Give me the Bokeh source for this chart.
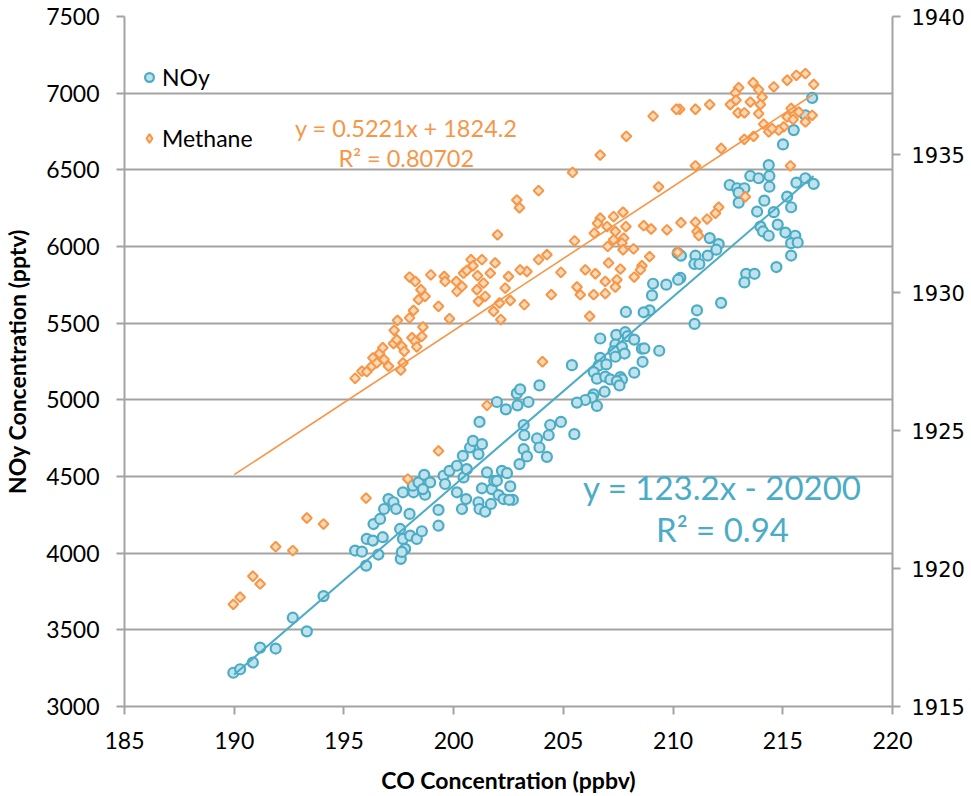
import math
from bokeh.plotting import figure
from bokeh.models import Range1d, LinearAxis, FixedTicker, Legend, LegendItem, Label
from bokeh.embed import file_html
from bokeh.resources import INLINE

# ---------------- data ----------------
co_noy = [
    189.96, 190.27, 190.85, 191.18, 191.89, 192.67, 193.31, 194.07,
    195.51, 195.82, 196.01, 196.04, 196.32, 196.57, 196.35, 196.65, 196.77, 196.83,
    197.03, 197.26, 197.38, 197.69, 197.56, 197.69, 197.79, 197.59, 197.64, 197.99,
    198.02, 198.32, 198.55, 198.17, 198.14, 198.40, 198.66, 198.70, 198.93, 198.60,
    199.31, 199.31, 199.54, 199.61, 199.81, 200.15, 200.15, 200.42, 200.45, 200.38,
    200.57, 200.60, 200.75, 200.88, 201.13, 201.29, 201.18, 201.29, 201.13, 201.18,
    201.44, 201.52, 201.74, 201.85, 201.97, 201.70, 202.05, 202.20, 202.43, 202.27,
    202.58, 202.70, 202.53, 201.97, 202.38, 202.88, 203.03, 202.91, 203.41, 203.91,
    203.19, 203.22, 203.19, 203.34, 203.00, 203.80, 203.91, 204.25,
    214.36, 213.52, 213.90, 214.39, 214.39, 212.58, 212.92, 213.25, 212.99, 212.99,
    214.16, 213.83, 214.59, 215.20, 215.38, 215.62, 216.03, 216.41, 213.98, 214.10,
    214.36, 214.77, 215.12, 215.57, 215.38, 215.68, 215.38, 214.71, 213.33, 213.71,
    213.25, 211.67, 212.08, 211.97, 211.58, 211.02, 210.97, 211.20, 210.21, 210.36,
    210.33, 210.23, 209.69, 209.09, 209.04, 212.19, 211.09, 210.98, 208.93, 208.66,
    207.85, 206.68, 207.41, 207.82, 207.93, 208.23, 207.37, 207.67, 207.29, 207.79,
    207.37, 208.58, 208.69, 209.37, 208.61, 206.68, 206.61, 206.96, 205.39, 206.38,
    206.53, 206.91, 207.14, 207.60, 207.67, 207.44, 207.56, 208.23, 206.88, 206.38,
    206.30, 206.00, 205.62, 206.53, 204.40, 204.89, 204.33, 205.50,
    216.34, 216.03, 215.50, 215.01,
]
noy = [
    3220, 3243, 3287, 3384, 3378, 3579, 3490, 3720,
    4017, 4010, 3919, 4093, 4082, 3991, 4190, 4223, 4104, 4288,
    4353, 4332, 4288, 4397, 4158, 4093, 4028, 3963, 4008, 4256,
    4114, 4093, 4143, 4397, 4440, 4462, 4511, 4381, 4462, 4418,
    4282, 4179, 4505, 4451, 4537, 4570, 4397, 4635, 4494, 4288,
    4353, 4548, 4689, 4732, 4646, 4711, 4856, 4423, 4332, 4288,
    4270, 4527, 4418, 4472, 4472, 4321, 4379, 4537, 4522, 4353,
    4436, 4348, 4348, 4986, 4938, 5042, 5068, 4964, 4986, 5094,
    4836, 4769, 4678, 4631, 4581, 4748, 4689, 4628,
    6531, 6460, 6445, 6460, 6390, 6401, 6380, 6380, 6351, 6286,
    6299, 6228, 6224, 6325, 6256, 6416, 6445, 6408, 6130, 6098,
    6070, 6143, 6091, 6070, 6022, 6026, 5941, 5866, 5822, 5822,
    5766, 6055, 6016, 5979, 5941, 5940, 5886, 5886, 5957, 5940,
    5795, 5783, 5751, 5757, 5681, 5632, 5584, 5495, 5584, 5571,
    5573, 5400, 5424, 5441, 5415, 5393, 5361, 5346, 5317, 5302,
    5281, 5333, 5335, 5320, 5248, 5274, 5224, 5231, 5226, 5181,
    5138, 5151, 5133, 5148, 5133, 5122, 5094, 5177, 5053, 5036,
    5014, 4999, 4982, 4960, 4836, 4856, 4769, 4776,
    6969, 6856, 6759, 6666,
]

co_ch4 = [
    189.96, 190.27, 190.85, 191.18, 191.89, 192.67, 193.31, 194.07, 196.01, 197.91,
    195.51, 195.82, 196.04, 196.27, 196.32, 196.50, 196.62, 196.77, 196.83, 197.03,
    197.26, 197.41, 197.64, 197.69, 197.59, 197.75, 198.10, 198.25, 198.32, 198.55,
    198.60, 197.29, 197.44, 197.99, 198.17, 198.40, 198.70, 198.51, 197.99, 198.25,
    198.96, 199.31, 199.57, 199.61, 199.81, 200.12, 200.15, 200.38, 200.45, 200.60,
    200.79, 200.88, 201.09, 201.06, 201.13, 199.31, 204.05, 201.52,
    216.03, 215.62, 215.20, 216.41, 214.59, 213.65, 213.90, 212.99, 212.84, 214.06,
    213.52, 212.61, 212.87, 213.98, 212.96, 213.25, 213.90, 211.67, 211.02, 210.30,
    210.15, 209.09, 207.87, 206.68, 205.42, 203.87, 202.88, 203.00, 202.00, 216.34,
    215.38, 215.73, 215.20, 215.47, 216.03, 215.04, 214.81, 214.13, 214.36, 214.51,
    213.67, 213.25, 212.19, 211.02, 215.35, 209.34, 213.29, 212.08, 211.93, 211.55,
    211.02, 211.09, 211.17, 210.36, 209.72, 209.00, 208.66, 207.72, 207.29, 206.68,
    206.56, 206.99, 207.37, 207.85, 206.41, 207.75, 207.29, 207.67, 207.02, 207.72,
    208.20, 208.93, 208.58, 208.51, 208.23, 207.60, 207.06, 206.46, 206.00, 206.91,
    207.44, 207.37, 206.91, 206.38, 205.77, 205.62, 204.89, 204.45, 206.20, 205.51,
    204.25, 203.87, 203.34, 203.03, 203.22, 202.50, 202.35, 202.58, 202.09, 202.15,
    201.82, 201.89, 201.67, 201.29, 201.36, 201.44, 210.21,
]
ch4 = [
    1918.70, 1918.96, 1919.72, 1919.44, 1920.79, 1920.65, 1921.83, 1921.61, 1922.55, 1923.24,
    1926.89, 1927.15, 1927.13, 1927.33, 1927.63, 1927.45, 1927.79, 1928.00, 1927.57, 1927.33,
    1928.15, 1928.29, 1928.05, 1927.45, 1927.19, 1927.87, 1928.36, 1928.23, 1928.03, 1928.41,
    1928.75, 1928.63, 1928.99, 1929.08, 1929.35, 1929.74, 1929.86, 1930.10, 1930.56, 1930.40,
    1930.64, 1929.50, 1930.58, 1930.40, 1929.05, 1930.40, 1930.04, 1930.22, 1930.70, 1930.80,
    1931.19, 1930.97, 1930.61, 1930.10, 1929.68, 1924.26, 1927.49, 1925.91,
    1937.93, 1937.87, 1937.69, 1937.54, 1937.45, 1937.60, 1937.35, 1937.42, 1937.23, 1937.08,
    1936.90, 1936.81, 1936.97, 1936.81, 1936.51, 1936.51, 1936.48, 1936.81, 1936.64, 1936.64,
    1936.64, 1936.39, 1935.66, 1934.98, 1934.35, 1933.69, 1933.35, 1933.07, 1932.09, 1936.42,
    1936.67, 1936.54, 1936.36, 1936.27, 1936.18, 1936.00, 1935.88, 1936.10, 1935.82, 1935.94,
    1935.66, 1935.55, 1935.22, 1934.59, 1934.59, 1933.83, 1933.47, 1933.09, 1932.87, 1932.66,
    1932.55, 1932.21, 1932.06, 1932.53, 1932.27, 1932.30, 1932.42, 1932.91, 1932.75, 1932.69,
    1932.51, 1932.39, 1932.21, 1932.39, 1932.15, 1931.97, 1931.91, 1931.79, 1931.67, 1931.55,
    1931.58, 1931.30, 1930.97, 1930.82, 1930.56, 1930.85, 1931.07, 1930.68, 1930.82, 1930.40,
    1930.46, 1930.20, 1929.96, 1929.92, 1929.92, 1930.20, 1930.73, 1929.92, 1929.14, 1931.87,
    1931.37, 1931.19, 1930.76, 1930.82, 1929.56, 1930.58, 1930.16, 1929.71, 1929.62, 1929.02,
    1929.32, 1931.07, 1930.70, 1931.19, 1930.34, 1929.86, 1931.46,
]

noy_fit = (123.2, -20200.0)     # slope, intercept
ch4_fit = (0.5221, 1824.2)
fit_x = [190.0, 216.4]

x_ticks = [185, 190, 195, 200, 205, 210, 215, 220]
noy_ticks = [3000, 3500, 4000, 4500, 5000, 5500, 6000, 6500, 7000, 7500]
ch4_ticks = [1915, 1920, 1925, 1930, 1935, 1940]

# ---------------- styling ----------------
BLUE = "#4bacc6"
BLUE_FILL = "#bfe2ec"
ORANGE = "#f79646"
ORANGE_FILL = "#fcd9b8"
GRID = "#a3a3a3"
FONT = "Lato"

p = figure(width=971, height=796, output_backend="svg", toolbar_location=None,
           x_range=Range1d(185, 220), y_range=Range1d(3000, 7500),
           min_border_left=124, min_border_right=79, min_border_top=16,
           min_border_bottom=88)
p.extra_y_ranges = {"ch4": Range1d(1915, 1940)}
p.outline_line_color = None
p.background_fill_color = "white"
p.border_fill_color = "white"

p.xgrid.visible = False
p.ygrid.ticker = FixedTicker(ticks=noy_ticks)
p.ygrid.grid_line_color = GRID
p.ygrid.grid_line_width = 2

def style_axis(ax, font, size):
    ax.axis_line_color = GRID
    ax.axis_line_width = 2
    ax.major_tick_line_color = GRID
    ax.major_tick_line_width = 2
    ax.major_tick_out = 8
    ax.major_tick_in = 0
    ax.minor_tick_out = 0
    ax.minor_tick_in = 0
    ax.major_label_text_font = font
    ax.major_label_text_font_size = size
    ax.major_label_text_color = "black"
    ax.axis_label_text_color = "black"

xa = p.xaxis[0]
xa.ticker = FixedTicker(ticks=x_ticks)
style_axis(xa, FONT, "23px")
xa.major_label_standoff = 17
xa.axis_label = "CO Concentration (ppbv)"
xa.axis_label_text_font = FONT
xa.axis_label_text_font_style = "bold"
xa.axis_label_text_font_size = "23px"
xa.axis_label_standoff = 14

ya = p.yaxis[0]
ya.ticker = FixedTicker(ticks=noy_ticks)
style_axis(ya, FONT, "23px")
ya.major_label_standoff = 17
ya.axis_label = "NOy Concentration (pptv)"
ya.axis_label_text_font = FONT
ya.axis_label_text_font_style = "bold"
ya.axis_label_text_font_size = "23px"
ya.axis_label_standoff = 12

ra = LinearAxis(y_range_name="ch4", ticker=FixedTicker(ticks=ch4_ticks))
style_axis(ra, "DejaVu Sans", "21px")
ra.major_label_standoff = 11
p.add_layout(ra, "right")

# ---------------- data marks ----------------
r_noy = p.scatter(co_noy, noy, marker="circle", size=10, fill_color=BLUE_FILL,
                  line_color=BLUE, line_width=2.2)
r_ch4 = p.scatter(co_ch4, ch4, marker="square", angle=math.pi / 4, size=7,
                  fill_color=ORANGE_FILL, line_color=ORANGE, line_width=2,
                  y_range_name="ch4")
# legend swatch for methane: diamond glyph with a single non-plotted (NaN) entry
key_x = [float("nan")]
key_y = [float("nan")]
r_ch4_key = p.scatter(key_x, key_y, marker="diamond", size=7,
                      fill_color=ORANGE_FILL, line_color=ORANGE, line_width=2,
                      y_range_name="ch4")

p.line(fit_x, [noy_fit[0] * x + noy_fit[1] for x in fit_x], line_color=BLUE, line_width=2)
p.line(fit_x, [ch4_fit[0] * x + ch4_fit[1] for x in fit_x], line_color=ORANGE,
       line_width=1.6, y_range_name="ch4")

# ---------------- legend ----------------
legend = Legend(items=[LegendItem(label="NOy", renderers=[r_noy]),
                       LegendItem(label="Methane", renderers=[r_ch4_key])],
                location=(14, 554), orientation="vertical",
                glyph_width=22, glyph_height=22, label_height=24,
                spacing=33, padding=0, margin=0, label_standoff=2,
                label_text_font=FONT, label_text_font_size="23px",
                label_text_color="black",
                border_line_color=None, background_fill_alpha=0)
p.add_layout(legend)

# ---------------- trendline equations ----------------
p.add_layout(Label(x=197.84, y=6772, text="y = 0.5221x + 1824.2", text_align="center",
                   text_baseline="alphabetic", text_font=FONT, text_font_size="23.5px",
                   text_color=ORANGE))
p.add_layout(Label(x=197.84, y=6576, text="R² = 0.80702", text_align="center",
                   text_baseline="alphabetic", text_font=FONT, text_font_size="23.5px",
                   text_color=ORANGE))
p.add_layout(Label(x=212.25, y=4431, text="y = 123.2x - 20200", text_align="center",
                   text_baseline="alphabetic", text_font=FONT, text_font_size="33px",
                   text_color=BLUE))
p.add_layout(Label(x=212.25, y=4160, text="R² = 0.94", text_align="center",
                   text_baseline="alphabetic", text_font=FONT, text_font_size="33px",
                   text_color=BLUE))

open("out.html", "w").write(file_html(p, INLINE))
